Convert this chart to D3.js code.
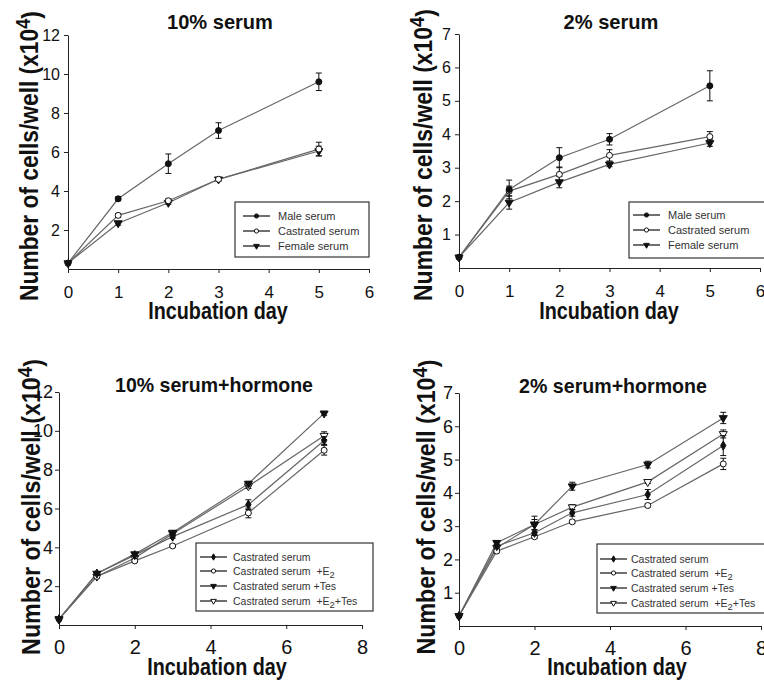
<!DOCTYPE html>
<html>
<head>
<meta charset="utf-8">
<script src="https://cdn.jsdelivr.net/npm/d3@7"></script>
<style>
  body { margin: 0; background: #fff; }
  text { font-family: "Liberation Sans", Arial, sans-serif; white-space: pre; }
</style>
</head>
<body>
<svg id="chart" width="764" height="681"></svg>
<script>
// days and labels
const serumDays = [0, 1, 2, 3, 5];
const hormoneDays = [0, 1, 2, 3, 5, 7];
const serumLabels = ["Male serum", "Castrated serum", "Female serum"];
const hormoneLabels = ["Castrated serum", "Castrated serum  +E2", "Castrated serum +Tes", "Castrated serum  +E2+Tes"];
const serumTicksX = [0, 1, 2, 3, 4, 5, 6];
const hormoneTicksX = [0, 2, 4, 6, 8];
const ticks12 = [2, 4, 6, 8, 10, 12];
const ticks7 = [1, 2, 3, 4, 5, 6, 7];

// 10% serum
const male10 = [0.3, 3.6, 5.4, 7.1, 9.6];
const male10Err = [0.05, 0.1, 0.5, 0.4, 0.45];
const cast10 = [0.3, 2.75, 3.5, 4.6, 6.15];
const cast10Err = [0.05, 0.1, 0.1, 0.08, 0.35];
const female10 = [0.3, 2.35, 3.4, 4.6, 6.05];
const female10Err = [0.05, 0.1, 0.08, 0.08, 0.25];

// 2% serum
const male2 = [0.32, 2.35, 3.3, 3.85, 5.45];
const male2Err = [0.03, 0.28, 0.3, 0.17, 0.45];
const cast2 = [0.32, 2.3, 2.8, 3.37, 3.93];
const cast2Err = [0.03, 0.15, 0.22, 0.17, 0.15];
const female2 = [0.32, 1.96, 2.57, 3.1, 3.74];
const female2Err = [0.03, 0.2, 0.17, 0.07, 0.1];

// 10% serum + hormone
const cast10h = [0.3, 2.65, 3.6, 4.55, 6.2, 9.5];
const cast10hErr = [0.05, 0.08, 0.08, 0.08, 0.25, 0.2];
const e2_10h = [0.3, 2.5, 3.3, 4.07, 5.77, 9.0];
const e2_10hErr = [0.05, 0.08, 0.08, 0.08, 0.25, 0.25];
const tes10h = [0.3, 2.65, 3.65, 4.76, 7.28, 10.9];
const tes10hErr = [0.05, 0.08, 0.08, 0.08, 0.12, 0.1];
const e2tes10h = [0.3, 2.5, 3.45, 4.7, 7.15, 9.75];
const e2tes10hErr = [0.05, 0.08, 0.08, 0.08, 0.12, 0.2];

// 2% serum + hormone
const cast2h = [0.3, 2.4, 2.8, 3.4, 3.95, 5.42];
const cast2hErr = [0.03, 0.05, 0.08, 0.1, 0.15, 0.3];
const e2_2h = [0.3, 2.25, 2.68, 3.13, 3.62, 4.87];
const e2_2hErr = [0.03, 0.05, 0.05, 0.05, 0.05, 0.17];
const tes2h = [0.3, 2.5, 3.05, 4.2, 4.85, 6.25];
const tes2hErr = [0.03, 0.07, 0.25, 0.12, 0.1, 0.17];
const e2tes2h = [0.3, 2.35, 3.05, 3.57, 4.33, 5.77];
const e2tes2hErr = [0.03, 0.05, 0.15, 0.08, 0.05, 0.12];

const serumShapes = ["fcircle", "ocircle", "ftri"];
const hormoneShapes = ["fdiamond", "ocircle", "ftri", "otri"];

const panels = [
  { title: "10% serum", left: 68, right: 369, top: 35, bottom: 269, xMax: 6, yMax: 12,
    xTicks: serumTicksX, yTicks: ticks12, days: serumDays, labels: serumLabels, shapes: serumShapes,
    values: [male10, cast10, female10], errors: [male10Err, cast10Err, female10Err],
    titleX: 220, titleY: 29, titleW: 106, xlabX: 218, xlabY: 319, xlabW: 140,
    ylabX: 38, ylabY: 156, ylabW: 290, yTickFont: 16, xTickFont: 17, xPad: 13, yPad: 4,
    legend: { x: 235, y: 202, w: 134, h: 55, rows: [216, 231, 246], lineX: 243, textX: 278, font: 11 } },
  { title: "2% serum", left: 459, right: 760, top: 34, bottom: 268, xMax: 6, yMax: 7,
    xTicks: serumTicksX, yTicks: ticks7, days: serumDays, labels: serumLabels, shapes: serumShapes,
    values: [male2, cast2, female2], errors: [male2Err, cast2Err, female2Err],
    titleX: 611, titleY: 29, titleW: 95, xlabX: 609, xlabY: 319, xlabW: 140,
    ylabX: 432, ylabY: 155, ylabW: 292, yTickFont: 16, xTickFont: 17, xPad: 13, yPad: 4,
    legend: { x: 629, y: 202, w: 140, h: 56, rows: [215, 230, 245], lineX: 633, textX: 668, font: 11 } },
  { title: "10% serum+hormone", left: 59, right: 362, top: 392, bottom: 625, xMax: 8, yMax: 12,
    xTicks: hormoneTicksX, yTicks: ticks12, days: hormoneDays, labels: hormoneLabels, shapes: hormoneShapes,
    values: [cast10h, e2_10h, tes10h, e2tes10h], errors: [cast10hErr, e2_10hErr, tes10hErr, e2tes10hErr],
    titleX: 214, titleY: 392, titleW: 198, xlabX: 217, xlabY: 675, xlabW: 140,
    ylabX: 40, ylabY: 507, ylabW: 296, yTickFont: 18, xTickFont: 20, xPad: 11, yPad: 2,
    legend: { x: 196, y: 543, w: 177, h: 68, rows: [557, 571, 586, 601], lineX: 200, textX: 233, font: 10.5 } },
  { title: "2% serum+hormone", left: 459, right: 761, top: 393, bottom: 626, xMax: 8, yMax: 7,
    xTicks: hormoneTicksX, yTicks: ticks7, days: hormoneDays, labels: hormoneLabels, shapes: hormoneShapes,
    values: [cast2h, e2_2h, tes2h, e2tes2h], errors: [cast2hErr, e2_2hErr, tes2hErr, e2tes2hErr],
    titleX: 613, titleY: 393, titleW: 188, xlabX: 617, xlabY: 675, xlabW: 140,
    ylabX: 435, ylabY: 507, ylabW: 295, yTickFont: 18, xTickFont: 20, xPad: 11, yPad: 2,
    legend: { x: 597, y: 544, w: 180, h: 69, rows: [559, 573, 588, 603], lineX: 600, textX: 631, font: 10.5 } }
];

var svg = d3.select("#chart");

function drawMarker(g, shape, px, py, small) {
  const k = small ? 0.7 : 1;
  if (shape === "fcircle" || shape === "ocircle") {
    g.append("circle")
      .attr("cx", px).attr("cy", py).attr("r", 3 * k)
      .attr("fill", shape === "fcircle" ? "#111" : "#fff")
      .attr("stroke", "#111").attr("stroke-width", 1);
  } else {
    const type = shape === "fdiamond" ? d3.symbolDiamond : d3.symbolTriangle;
    const size = shape === "fdiamond" ? 24 : 28;
    g.append("path")
      .attr("d", d3.symbol().type(type).size(size * k * k)())
      .attr("transform", "translate(" + px + "," + py + ")" + (type === d3.symbolTriangle ? " rotate(180)" : ""))
      .attr("fill", shape === "otri" ? "#fff" : "#111")
      .attr("stroke", "#111").attr("stroke-width", 1);
  }
}

// squeeze a centred text to a target width
function fitText(t, x, y, width, rotated) {
  const w = t.node().getBBox().width;
  t.attr("transform", "translate(" + x + "," + y + ")" + (rotated ? " rotate(-90)" : "") + " scale(" + (width / w) + ",1)");
}

function addLabel(t, label) {
  const parts = label.split("E2");
  parts.forEach((p, i) => {
    if (i > 0) {
      t.append("tspan").text("E");
      t.append("tspan").text("2").attr("dy", "0.3em").attr("font-size", "0.9em");
      t.append("tspan").text(p).attr("dy", "-0.3em");
    } else {
      t.append("tspan").text(p);
    }
  });
}

panels.forEach(p => {
  const g = svg.append("g");
  const x = d3.scaleLinear().domain([0, p.xMax]).range([p.left, p.right]);
  const y = d3.scaleLinear().domain([0, p.yMax]).range([p.bottom, p.top]);

  const xAxis = g.append("g")
    .attr("transform", "translate(0," + p.bottom + ")")
    .call(d3.axisBottom(x).tickValues(p.xTicks).tickFormat(d3.format("d")).tickSize(4).tickSizeOuter(0).tickPadding(p.xPad));
  xAxis.selectAll("text").attr("font-size", p.xTickFont).attr("fill", "#111").style("font-family", "Liberation Sans, Arial, sans-serif");

  const yAxis = g.append("g")
    .attr("transform", "translate(" + p.left + ",0)")
    .call(d3.axisLeft(y).tickValues(p.yTicks).tickFormat(d3.format("d")).tickSize(4).tickSizeOuter(0).tickPadding(p.yPad));
  yAxis.selectAll("text").attr("font-size", p.yTickFont).attr("fill", "#111").style("font-family", "Liberation Sans, Arial, sans-serif");
  g.selectAll(".domain, .tick line").attr("stroke", "#222");

  // title and axis labels
  const title = g.append("text").attr("text-anchor", "middle").attr("font-size", 20)
    .attr("font-weight", "bold").attr("fill", "#111").text(p.title);
  fitText(title, p.titleX, p.titleY, p.titleW, false);

  const xlab = g.append("text").attr("text-anchor", "middle").attr("font-size", 23)
    .attr("font-weight", "bold").attr("fill", "#111").text("Incubation day");
  fitText(xlab, p.xlabX, p.xlabY, p.xlabW, false);

  const ylab = g.append("text").attr("text-anchor", "middle").attr("font-size", 25)
    .attr("font-weight", "bold").attr("fill", "#111");
  ylab.append("tspan").text("Number of cells/well (x10");
  ylab.append("tspan").text("4").attr("dy", "-0.4em").attr("font-size", "0.8em");
  ylab.append("tspan").text(")").attr("dy", "0.4em");
  fitText(ylab, p.ylabX, p.ylabY, p.ylabW, true);

  const line = d3.line().x(d => x(d[0])).y(d => y(d[1]));

  // lines first, then error bars and markers (first series drawn last, on top)
  p.values.forEach(vals => {
    g.append("path")
      .datum(p.days.map((d, i) => [d, vals[i]]))
      .attr("d", line)
      .attr("fill", "none")
      .attr("stroke", "#666")
      .attr("stroke-width", 1.2);
  });

  d3.range(p.values.length).reverse().forEach(s => {
    const vals = p.values[s];
    p.days.forEach((d, i) => {
      const px = x(d);
      const e = p.errors[s][i];
      const y1 = y(vals[i] + e), y2 = y(vals[i] - e);
      g.append("line").attr("x1", px).attr("x2", px).attr("y1", y1).attr("y2", y2)
        .attr("stroke", "#111").attr("stroke-width", 1);
      [y1, y2].forEach(yy => {
        g.append("line").attr("x1", px - 3).attr("x2", px + 3).attr("y1", yy).attr("y2", yy)
          .attr("stroke", "#111").attr("stroke-width", 1);
      });
      drawMarker(g, p.shapes[s], px, y(vals[i]), false);
    });
  });

  // legend
  const L = p.legend;
  g.append("rect")
    .attr("x", L.x).attr("y", L.y).attr("width", L.w).attr("height", L.h)
    .attr("fill", "#fff").attr("stroke", "#333").attr("stroke-width", 1.2);
  p.labels.forEach((lab, i) => {
    const ry = L.rows[i];
    g.append("line").attr("x1", L.lineX).attr("x2", L.lineX + 27).attr("y1", ry).attr("y2", ry)
      .attr("stroke", "#222").attr("stroke-width", 1.3);
    drawMarker(g, p.shapes[i], L.lineX + 13.5, ry, true);
    const t = g.append("text")
      .attr("x", L.textX).attr("y", ry + 4)
      .attr("font-size", L.font)
      .attr("fill", "#333");
    addLabel(t, lab);
  });
});
</script>
</body>
</html>
